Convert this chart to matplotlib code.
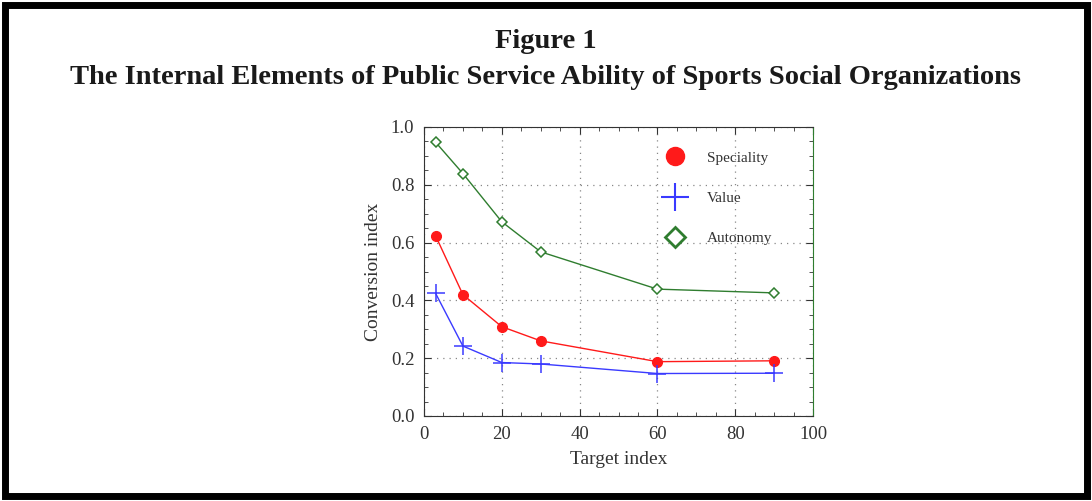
import matplotlib
matplotlib.use("Agg")
from matplotlib import pyplot as plt
from matplotlib.lines import Line2D
from matplotlib.patches import Rectangle
from matplotlib.ticker import MultipleLocator

# data
target = [3, 10, 20, 30, 60, 90]
speciality = [0.623, 0.420, 0.309, 0.260, 0.188, 0.191]
value = [0.424, 0.242, 0.185, 0.180, 0.147, 0.148]
autonomy = [0.947, 0.839, 0.672, 0.568, 0.439, 0.426]

red = '#ff1a1a'
blue = '#3a3aff'
green = '#2f7d2f'

plt.rcParams['font.family'] = ['Liberation Serif', 'DejaVu Serif']

fig = plt.figure(figsize=(10.92, 5.01), dpi=100)
fig.patches.append(Rectangle((0.005, 0.01), 0.99, 0.98, transform=fig.transFigure,
                             fill=False, edgecolor='black', linewidth=5))

fig.text(0.5, 0.918, "Figure 1", ha='center', va='center', fontsize=20.5, fontweight='bold',
         color='#1a1a1a')
fig.text(0.5, 0.845, "The Internal Elements of Public Service Ability of Sports Social Organizations",
         ha='center', va='center', fontsize=20.5, fontweight='bold', color='#1a1a1a')

ax = fig.add_axes([424 / 1092, 1 - 416 / 501, (813 - 424) / 1092, (416 - 127) / 501])

ax.plot(target, autonomy, color=green, lw=1, marker='D', ms=5.5, mfc='white', mec=green, mew=1.1)
ax.plot(target, speciality, color=red, lw=1, marker='o', ms=7, mfc=red, mec=red)
ax.plot(target, value, color=blue, lw=1, marker='+', ms=13, mew=1.1)

ax.set_xlim(0, 100)
ax.set_ylim(0, 1.0)
ax.xaxis.set_major_locator(MultipleLocator(20))
ax.xaxis.set_minor_locator(MultipleLocator(5))
ax.yaxis.set_major_locator(MultipleLocator(0.2))
ax.yaxis.set_minor_locator(MultipleLocator(0.05))
ax.yaxis.set_major_formatter(matplotlib.ticker.FormatStrFormatter('%.1f'))
ax.tick_params(which='both', direction='in', top=True, right=True, labelsize=13.5,
               colors='#333333', pad=7)
ax.tick_params(which='major', length=5)
ax.tick_params(which='minor', length=3)
ax.grid(True, which='major', linestyle=(0, (1, 4)), color='#888888', linewidth=0.9)
for side in ['left', 'bottom', 'top']:
    ax.spines[side].set_color('#333333')
ax.spines['right'].set_color(green)
ax.set_xlabel('Target index', fontsize=14, color='#333333', labelpad=6)
ax.set_ylabel('Conversion index', fontsize=14, color='#333333', labelpad=6)

handles = [
    Line2D([], [], ls='none', marker='o', ms=13, color=red),
    Line2D([], [], ls='none', marker='+', ms=20, mew=1.5, color=blue),
    Line2D([], [], ls='none', marker='D', ms=10, mfc='white', mec=green, mew=2),
]
ax.legend(handles, ['Speciality', 'Value', 'Autonomy'], loc='upper right',
          bbox_to_anchor=(0.93, 0.965), frameon=False, fontsize=11, labelspacing=1.75,
          handletextpad=1.1, labelcolor='#333333')

fig.savefig('out.png', dpi=100)
